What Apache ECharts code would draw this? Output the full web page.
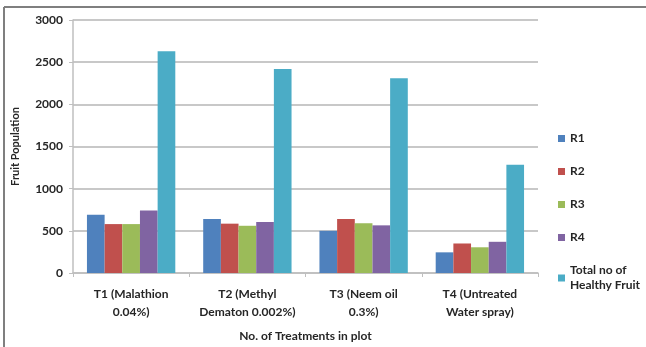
<!DOCTYPE html>
<html>
<head>
<meta charset="utf-8">
<script src="https://cdn.jsdelivr.net/npm/echarts@6/dist/echarts.min.js"></script>
<style>
  html, body { margin: 0; padding: 0; background: #fff; }
  #chart { width: 646px; height: 347px; }
</style>
</head>
<body>
<div id="chart"></div>
<script>
// Treatments (x-axis categories)
const categories = [
  'T1 (Malathion\n0.04%)',
  'T2 (Methyl\nDematon 0.002%)',
  'T3 (Neem oil\n0.3%)',
  'T4 (Untreated\nWater spray)'
];

// Fruit population per replication
const r1 = [690, 640, 500, 245];
const r2 = [580, 585, 640, 350];
const r3 = [580, 560, 590, 305];
const r4 = [740, 605, 565, 370];
const totalHealthy = [2630, 2420, 2310, 1285];

const seriesNames = ['R1', 'R2', 'R3', 'R4', 'Total no of Healthy Fruit'];
const seriesValues = [r1, r2, r3, r4, totalHealthy];
const colors = ['#4F81BD', '#C0504D', '#9BBB59', '#8064A2', '#4BACC6'];

// Y-axis ticks
const yTicks = [0, 500, 1000, 1500, 2000, 2500, 3000];

const font = 'Lato, "Open Sans", sans-serif';
const textColor = '#262626';

const chart = echarts.init(document.getElementById('chart'), null, { renderer: 'canvas' });

chart.setOption({
  animation: false,
  backgroundColor: '#ffffff',
  color: colors,
  grid: { left: 73, right: 108, top: 20, bottom: 67.5 },
  legend: {
    orient: 'vertical',
    left: 553,
    top: 126,
    itemWidth: 7,
    itemHeight: 7,
    itemGap: 18,
    icon: 'rect',
    textStyle: { fontFamily: font, fontSize: 12, fontWeight: 'bold', color: textColor, lineHeight: 15 },
    formatter: function (name) {
      return name === 'Total no of Healthy Fruit' ? 'Total no of\nHealthy Fruit' : name;
    },
    data: seriesNames
  },
  xAxis: {
    type: 'category',
    data: categories,
    name: 'No. of Treatments in plot',
    nameLocation: 'middle',
    nameGap: 57,
    nameTextStyle: { fontFamily: font, fontSize: 12, fontWeight: 'bold', color: textColor },
    axisLine: { lineStyle: { color: '#bfbfbf', width: 1.5 } },
    axisTick: { show: true, length: 4, lineStyle: { color: '#bfbfbf' } },
    axisLabel: {
      fontFamily: font, fontSize: 12, fontWeight: 'bold', color: textColor,
      margin: 12, lineHeight: 18, interval: 0
    }
  },
  yAxis: {
    type: 'value',
    min: yTicks[0],
    max: yTicks[yTicks.length - 1],
    interval: yTicks[1] - yTicks[0],
    name: 'Fruit Population',
    nameLocation: 'middle',
    nameGap: 52,
    nameTextStyle: { fontFamily: font, fontSize: 11, fontWeight: 'bold', color: textColor },
    axisLine: { show: true, lineStyle: { color: '#bfbfbf', width: 1.5 } },
    axisTick: { show: true, length: 4, lineStyle: { color: '#bfbfbf' } },
    axisLabel: {
      fontFamily: font, fontSize: 12, fontWeight: 'bold', color: textColor, margin: 10,
      formatter: function (v) { return String(v); }
    },
    splitLine: { lineStyle: { color: '#c8c8c8', width: 2 } }
  },
  series: seriesNames.map(function (name, i) {
    return {
      name: name,
      type: 'bar',
      data: seriesValues[i],
      barGap: '0%',
      barCategoryGap: '24%',
      itemStyle: { color: colors[i] }
    };
  }),
  graphic: [
    { type: 'line', shape: { x1: 4, y1: 7, x2: 646, y2: 7 }, style: { stroke: '#7f7f7f', lineWidth: 2 } },
    { type: 'line', shape: { x1: 4, y1: 7, x2: 4, y2: 347 }, style: { stroke: '#7f7f7f', lineWidth: 2 } }
  ]
});
</script>
</body>
</html>
